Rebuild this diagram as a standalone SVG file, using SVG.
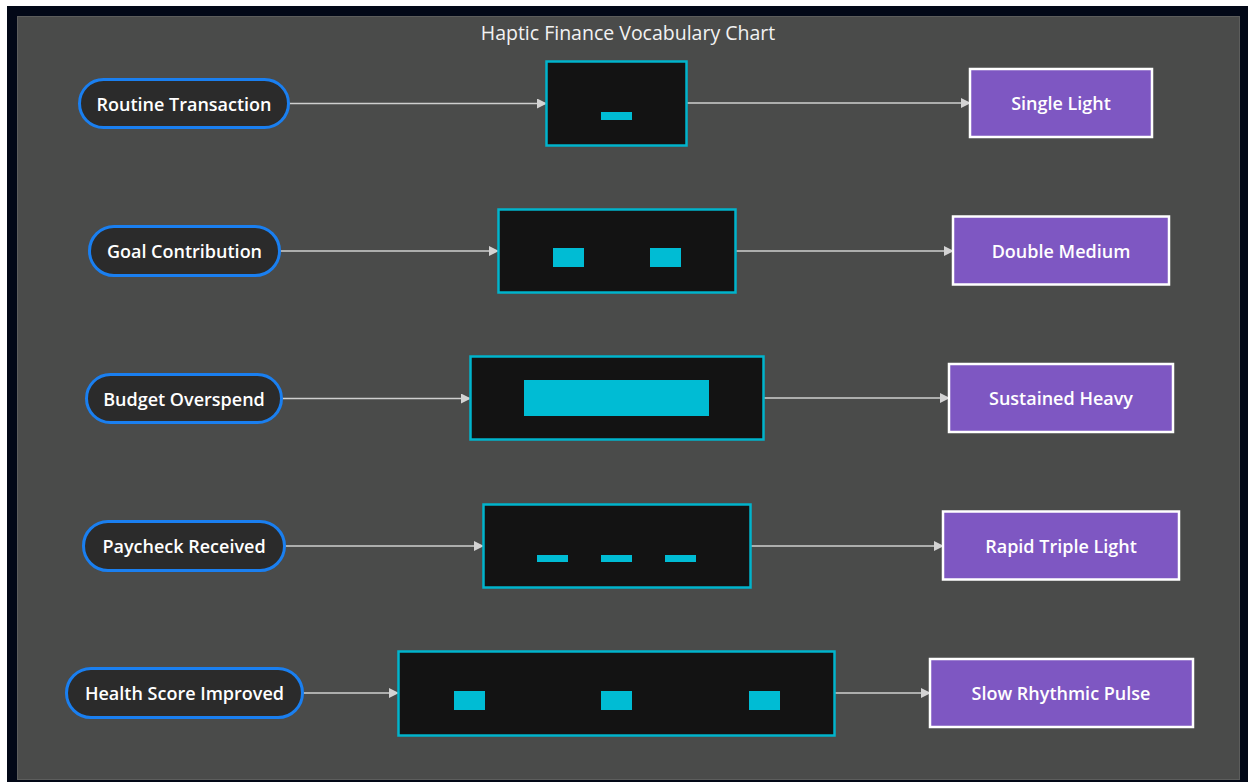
<svg xmlns="http://www.w3.org/2000/svg" width="1248" height="782" viewBox="0 0 1248 782">
<defs>
<marker id="arr" markerWidth="10" markerHeight="10" refX="9" refY="5" orient="auto" markerUnits="userSpaceOnUse">
<path d="M0,0 L10,5 L0,10 Z" fill="#d3d3d3"/>
</marker>
<style>
.bg{fill:#020817}
.panel{fill:#4a4b4a;stroke:#5c5d5c;stroke-width:1}
.title{font-family:"Open Sans","Liberation Sans",sans-serif;font-size:19.5px;fill:#f2f2f2;text-anchor:middle}
.ev rect{fill:#2b2b2b;stroke:#1a7ff0;stroke-width:3}
.pat rect.frame{fill:#131313;stroke:#00b4cc;stroke-width:2.5}
.pat rect.bar{fill:#00bcd4}
.out rect{fill:#7e57c2;stroke:#ffffff;stroke-width:2.5}
text.lbl{font-family:"Open Sans","Liberation Sans",sans-serif;font-size:18px;font-weight:600;fill:#ffffff;text-anchor:middle;dominant-baseline:central}
.edge{stroke:#cfcfcf;stroke-width:1.5;fill:none;marker-end:url(#arr)}
</style>
</defs>
<rect class="bg" x="7" y="6" width="1241" height="776"/>
<rect class="panel" x="17.5" y="16.5" width="1222" height="763"/>
<text class="title" x="628" y="40">Haptic Finance Vocabulary Chart</text>

<g id="connectors">
<path class="edge" d="M289,103.5 L546,103.5"/>
<path class="edge" d="M687,103 L970,103"/>
<path class="edge" d="M280,251 L498,251"/>
<path class="edge" d="M736,251 L953,251"/>
<path class="edge" d="M282,398.5 L470,398.5"/>
<path class="edge" d="M764,398 L949,398"/>
<path class="edge" d="M285,546 L483,546"/>
<path class="edge" d="M751,546 L943,546"/>
<path class="edge" d="M303,693 L398,693"/>
<path class="edge" d="M835,693 L930,693"/>
</g>

<g id="ev1" class="ev"><rect x="79.5" y="79.5" width="209" height="48" rx="24"/><text class="lbl" x="184" y="103.5">Routine Transaction</text></g>
<g id="ev2" class="ev"><rect x="89.5" y="226.5" width="190" height="49" rx="24.5"/><text class="lbl" x="184.5" y="251">Goal Contribution</text></g>
<g id="ev3" class="ev"><rect x="86.5" y="374.5" width="195" height="48" rx="24"/><text class="lbl" x="184" y="398.5">Budget Overspend</text></g>
<g id="ev4" class="ev"><rect x="83.5" y="521.5" width="201" height="49" rx="24.5"/><text class="lbl" x="184" y="546">Paycheck Received</text></g>
<g id="ev5" class="ev"><rect x="66.5" y="668.5" width="236" height="49" rx="24.5"/><text class="lbl" x="184.5" y="693">Health Score Improved</text></g>

<g id="pat1" class="pat"><rect class="frame" x="546.5" y="61.5" width="140" height="84"/><rect class="bar" x="601" y="112" width="31" height="8"/></g>
<g id="pat2" class="pat"><rect class="frame" x="498.5" y="209.5" width="237" height="83"/><rect class="bar" x="553" y="248" width="31" height="19"/><rect class="bar" x="650" y="248" width="31" height="19"/></g>
<g id="pat3" class="pat"><rect class="frame" x="470.5" y="356.5" width="293" height="83"/><rect class="bar" x="524" y="380" width="185" height="36"/></g>
<g id="pat4" class="pat"><rect class="frame" x="483.5" y="504.5" width="267" height="83"/><rect class="bar" x="537" y="555" width="31" height="7"/><rect class="bar" x="601" y="555" width="31" height="7"/><rect class="bar" x="665" y="555" width="31" height="7"/></g>
<g id="pat5" class="pat"><rect class="frame" x="398.5" y="651.5" width="436" height="84"/><rect class="bar" x="454" y="691" width="31" height="19"/><rect class="bar" x="601" y="691" width="31" height="19"/><rect class="bar" x="749" y="691" width="31" height="19"/></g>

<g id="out1" class="out"><rect x="970" y="69" width="182" height="68"/><text class="lbl" x="1061" y="103">Single Light</text></g>
<g id="out2" class="out"><rect x="953" y="216.5" width="216" height="68"/><text class="lbl" x="1061" y="250.5">Double Medium</text></g>
<g id="out3" class="out"><rect x="949" y="364" width="224" height="68"/><text class="lbl" x="1061" y="398">Sustained Heavy</text></g>
<g id="out4" class="out"><rect x="943" y="511.5" width="236" height="68"/><text class="lbl" x="1061" y="545.5">Rapid Triple Light</text></g>
<g id="out5" class="out"><rect x="930" y="659" width="263" height="68"/><text class="lbl" x="1061" y="693">Slow Rhythmic Pulse</text></g>
</svg>
